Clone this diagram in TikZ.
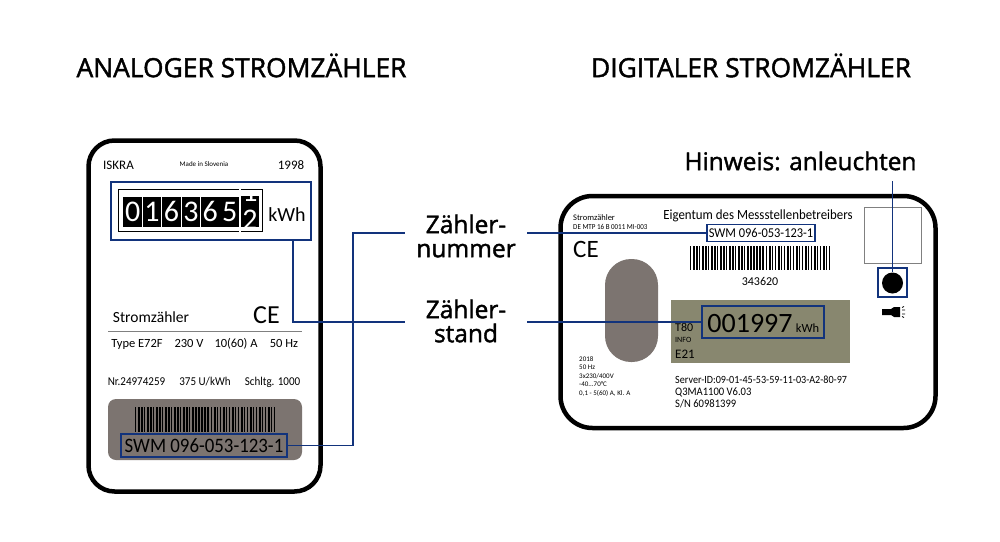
\documentclass[tikz,border=0pt]{standalone}
\usepackage{fontspec}
\setmainfont{Carlito}
\newfontfamily\headfont[FakeBold=1.6]{Open Sans}
\newfontfamily\numfont[FakeStretch=0.92]{Carlito}
\usetikzlibrary{calc}
\definecolor{swmblue}{HTML}{12337C}
\definecolor{plategray}{HTML}{7C7470}
\definecolor{lcdgray}{HTML}{88876F}
\tikzset{
  meterbody/.style={draw=black,line width=4.5pt,fill=white,outer sep=0pt,inner sep=0pt},
  markbox/.style={draw=swmblue,line width=1.8pt,outer sep=0pt,inner sep=0pt},
  wire/.style={draw=swmblue,line width=1.4pt},
  title/.style={font=\headfont\fontsize{26.4}{26.4}\selectfont,inner sep=0pt},
  callout/.style={font=\headfont\fontsize{24.5}{24}\selectfont,align=center,inner sep=0pt,minimum width=122pt},
  txt/.style={inner sep=0pt},
  btxt/.style={inner sep=0pt,anchor=base},
  ltxt/.style={inner sep=0pt,anchor=west},
  digit/.style={fill=black,text=white,minimum width=18.6pt,minimum height=30pt,inner sep=0pt,font=\fontsize{30}{30}\selectfont}
}
\newcommand{\barcode}[5]{% x0, bars, top, bottom, pitch
  \foreach \i in {0,...,#2}{
    \pgfmathsetmacro{\bw}{1.1+0.9*mod(\i*7,3)/2}
    \fill (#1+\i*#5,#3) rectangle (#1+\i*#5+\bw,#4);
  }
}
\begin{document}
\begin{tikzpicture}[x=1pt,y=-1pt]
\useasboundingbox (0,0) rectangle (1000,541);
% headings
\node[title] (analogtitle) at (241.5,65.5) {ANALOGER STROMZÄHLER};
\node[title] (digitaltitle) at (751,65.5) {DIGITALER STROMZÄHLER};
% analog meter
\node[meterbody,rounded corners=26pt,minimum width=232pt,minimum height=351pt] (analog) at (204.5,316) {};
\node[txt,font=\fontsize{13}{13}\selectfont] (iskra) at (118.5,165) {ISKRA};
\node[txt,font=\fontsize{7}{7}\selectfont] (made) at (204,164) {Made in Slovenia};
\node[txt,font=\fontsize{13}{13}\selectfont] (year) at (291,165) {1998};
\node[draw,line width=1.3pt,minimum width=144pt,minimum height=42pt,inner sep=0pt] (counter) at (190.5,210.5) {};
\foreach \d [count=\i] in {0,1,6,3,6,5}
  \node[digit] (cell\i) at (123+9.7+\i*19.4-19.4,211.5) {\d};
\begin{scope}
\clip (240,196) rectangle (259,227);
\fill[black] (240,196) rectangle (259,227);
\node[txt,text=white,font=\fontsize{30}{30}\selectfont] (halfa) at (250,191.5) {1};
\node[txt,text=white,font=\fontsize{30}{30}\selectfont] (halfb) at (250,220) {2};
\end{scope}
\draw[white,line width=1.2pt] (240,187) -- (240,234);
\node[txt,font=\fontsize{20}{20}\selectfont] (akwh) at (287,215) {kWh};
\node[markbox,minimum width=200pt,minimum height=58pt] (areading) at (211,211) {};
\node[txt,font=\fontsize{15.5}{15.5}\selectfont] (astrom) at (151,317) {Stromzähler};
\node[txt,font=\fontsize{26}{26}\selectfont] (ace) at (266.5,315) {CE};
\draw[gray,line width=0.8pt] (108,331) -- (302,331);
\node[btxt,font=\fontsize{12.5}{12.5}\selectfont] (atype) at (137,347.5) {Type E72F};
\node[btxt,font=\fontsize{12.5}{12.5}\selectfont] (avolt) at (189,347.5) {230 V};
\node[btxt,font=\fontsize{12.5}{12.5}\selectfont] (aamp) at (236,347.5) {10(60) A};
\node[btxt,font=\fontsize{12.5}{12.5}\selectfont] (ahz) at (284,347.5) {50 Hz};
\node[btxt,font=\numfont\fontsize{12}{12}\selectfont] (anr) at (136.5,385) {Nr.24974259};
\node[btxt,font=\numfont\fontsize{12}{12}\selectfont] (arev) at (205,385) {375 U/kWh};
\node[btxt,font=\numfont\fontsize{12}{12}\selectfont] (aschl) at (272.5,385) {Schltg. 1000};
\node[fill=plategray,rounded corners=8pt,minimum width=194pt,minimum height=61pt,inner sep=0pt] (plate) at (205,429.5) {};
\barcode{135}{46}{407}{432}{3.02}
\node[markbox,minimum width=166pt,minimum height=23pt] (aswm) at (204,445.5) {};
\node[txt,font=\numfont\fontsize{20.5}{20.5}\selectfont] (aswmtext) at (aswm) {SWM 096-053-123-1};
% digital meter
\node[meterbody,rounded corners=32pt,minimum width=375pt,minimum height=232pt] (digital) at (748,312) {};
\node[ltxt,font=\fontsize{8.5}{8.5}\selectfont] (dstrom) at (573,218) {Stromzähler};
\node[ltxt,font=\numfont\fontsize{7.6}{7.6}\selectfont] (dmtp) at (573,227) {DE MTP 16 B 0011 MI-003};
\node[txt,font=\fontsize{25}{25}\selectfont] (dce) at (586,249) {CE};
\node[txt,font=\numfont\fontsize{14}{14}\selectfont] (eigentum) at (758,216) {Eigentum des Messstellenbetreibers};
\node[markbox,minimum width=108pt,minimum height=17pt] (dswm) at (761,233) {};
\node[txt,font=\numfont\fontsize{13.5}{13.5}\selectfont] (dswmtext) at (dswm) {SWM 096-053-123-1};
\barcode{690}{46}{246}{270}{3.02}
\node[txt,font=\fontsize{12}{12}\selectfont] (dnum) at (760,281) {343620};
\node[fill=plategray,rounded corners=26pt,minimum width=53pt,minimum height=103pt,inner sep=0pt] (pill) at (631.5,310.5) {};
\node[fill=lcdgray,minimum width=179pt,minimum height=63pt,inner sep=0pt] (lcd) at (760.5,331.5) {};
\node[markbox,minimum width=122pt,minimum height=32pt] (dreading) at (763,322) {};
\node[btxt,font=\fontsize{28}{28}\selectfont] (dcount) at (750,332.5) {001997};
\node[btxt,font=\fontsize{12.5}{12.5}\selectfont] (dkwh) at (807.5,332.5) {kWh};
\node[ltxt,font=\fontsize{12}{12}\selectfont] (dobis) at (675,327) {T80};
\node[ltxt,font=\fontsize{8}{8}\selectfont] (dinfo) at (675,340) {INFO};
\node[ltxt,font=\fontsize{13}{13}\selectfont] (dtarif) at (675,354) {E21};
\node[ltxt,font=\fontsize{7}{7}\selectfont] (dyear) at (579,359) {2018};
\node[ltxt,font=\fontsize{7}{7}\selectfont] (dfreq) at (579,367) {50 Hz};
\node[ltxt,font=\fontsize{7}{7}\selectfont] (dvolt) at (579,376) {3x230/400V};
\node[ltxt,font=\fontsize{7}{7}\selectfont] (dtemp) at (579,384) {-40...70°C};
\node[ltxt,font=\fontsize{7}{7}\selectfont] (damp) at (579,393) {0,1 - 5(60) A, Kl. A};
\node[ltxt,font=\numfont\fontsize{11}{11}\selectfont] (dserver) at (675,380) {Server-ID:09-01-45-53-59-11-03-A2-80-97};
\node[ltxt,font=\numfont\fontsize{11.5}{11.5}\selectfont] (dmodel) at (675,392) {Q3MA1100 V6.03};
\node[ltxt,font=\numfont\fontsize{11.5}{11.5}\selectfont] (dsn) at (675,404) {S/N 60981399};
\node[draw=gray,line width=0.8pt,minimum width=57pt,minimum height=56pt,inner sep=0pt] (flap) at (892.5,235) {};
\node[markbox,minimum width=29pt,minimum height=29pt] (button) at (892.5,282.5) {};
\node[circle,fill=black,minimum size=21pt,inner sep=0pt] (lamp) at (892.5,283) {};
% torch
\fill (882,309) -- (891,309) -- (894,307) -- (900,307) -- (900,317) -- (894,317) -- (891,315) -- (882,315) -- cycle;
\draw[line width=0.8pt] (902,307.5) -- (904,306.5) (902,310) -- (905,310) (902,314) -- (905,314) (902,316.5) -- (904,317.5);
% callouts
\node[callout] (nummer) at (466,236) {Zähler-\\nummer};
\node[callout] (stand) at (466,321) {Zähler-\\stand};
\node[title,font=\headfont\fontsize{24.4}{24.4}\selectfont] (hinweis) at (800.5,161) {Hinweis: anleuchten};
\coordinate (numbend) at (353,233);
\coordinate (standbend) at (293,322);
\coordinate (hinweisend) at (892.5,181);
\draw[wire] (aswm.east) -| (numbend) -- (nummer.west |- numbend);
\draw[wire] (nummer.east |- dswm.west) -- (dswm.west);
\draw[wire] (areading.south -| standbend) -- (standbend) -- (stand.west |- standbend);
\draw[wire] (stand.east |- dreading.west) -- (dreading.west);
\draw[wire] (hinweisend) -- (lamp.north);
\end{tikzpicture}
\end{document}
